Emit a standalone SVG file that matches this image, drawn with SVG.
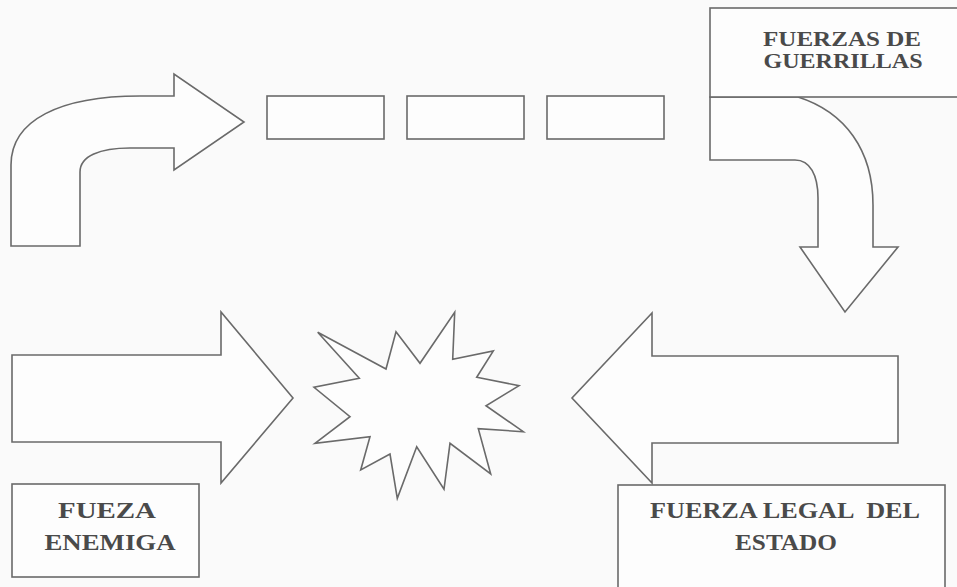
<svg xmlns="http://www.w3.org/2000/svg" width="957" height="587" viewBox="0 0 957 587">
<style>
.s{fill:#fdfdfd;stroke:#6a6a6a;stroke-width:1.6;stroke-linejoin:miter}
.t{font-family:"Liberation Serif","Times New Roman",serif;font-weight:bold;fill:#4a4a4a;text-anchor:middle}
</style>
<rect width="957" height="587" fill="#fafafa"/>
<g id="connectors">
<path id="curved-arrow-right" class="s" d="M11,246 L11,165 C11,120 60,96 140,96 L174,96 L174,74 L244,122 L174,170 L174,148 L130,148 C100,148 80,156 80,172 L80,246 Z"/>
<path id="curved-arrow-down" class="s" d="M710,97 L798,97 C845,112 873,150 873,205 L873,247 L898,247 L845,312 L800,247 L818,247 L818,198 C818,175 810,160 795,160 L710,160 Z"/>
<path id="arrow-right" class="s" d="M12,355 L221,355 L221,312 L293,398 L221,483 L221,442 L12,442 Z"/>
<path id="arrow-left" class="s" d="M898,356 L652,356 L652,313 L572,398 L652,483 L652,443 L898,443 Z"/>
</g>
<g id="box1"><rect class="s" x="267" y="96" width="117" height="43"/></g>
<g id="box2"><rect class="s" x="407" y="96" width="117" height="43"/></g>
<g id="box3"><rect class="s" x="547" y="96" width="117" height="43"/></g>
<g id="fuerzas-guerrillas">
<rect class="s" x="710" y="8" width="260" height="89"/>
<text class="t" x="842" y="46" font-size="20.5" textLength="158" lengthAdjust="spacingAndGlyphs">FUERZAS DE</text>
<text class="t" x="843" y="68" font-size="20.5" textLength="159" lengthAdjust="spacingAndGlyphs">GUERRILLAS</text>
</g>
<g id="explosion">
<polygon class="s" points="317.7,332.3 386,369 396,331.7 420,363.3 454.7,312.3 452.7,359.3 493.3,351 476.7,377.3 519,385.7 486,405.7 523.3,431.7 478.3,428.7 490.7,474 450,443.3 444,489.3 416.7,446.7 397.3,498.3 390,454 360.7,470 370,436.7 315,443.3 350,416.7 314,387.3 359.3,378.3"/>
</g>
<g id="fueza-enemiga">
<rect class="s" x="12" y="484" width="187" height="93"/>
<text class="t" x="107" y="518" font-size="24" textLength="98" lengthAdjust="spacingAndGlyphs">FUEZA</text>
<text class="t" x="110" y="550" font-size="24" textLength="131" lengthAdjust="spacingAndGlyphs">ENEMIGA</text>
</g>
<g id="fuerza-legal">
<rect class="s" x="618" y="485" width="327" height="110"/>
<text class="t" x="785" y="518" font-size="24" textLength="270" lengthAdjust="spacingAndGlyphs" xml:space="preserve">FUERZA LEGAL  DEL</text>
<text class="t" x="786" y="550" font-size="24" textLength="102" lengthAdjust="spacingAndGlyphs">ESTADO</text>
</g>
</svg>
